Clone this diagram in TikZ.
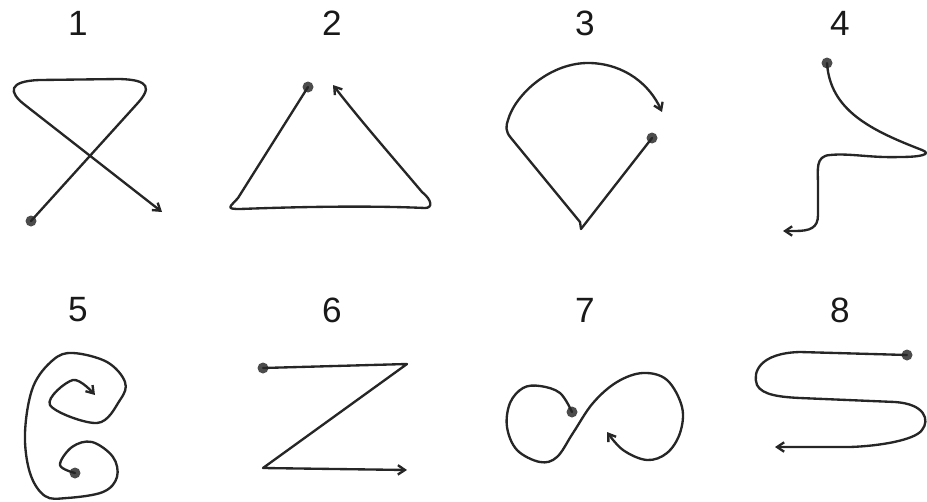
\documentclass[tikz,border=0pt]{standalone}
\usepackage{fontspec}
\setmainfont{Liberation Sans}
\usetikzlibrary{arrows.meta}

\begin{document}
\begin{tikzpicture}[x=0.03cm, y=-0.03cm,
    stroke/.style={draw=black!85, line width=2pt, line cap=round, line join=round},
    tip/.style={-{Straight Barb[length=6pt, width=8pt]}},
    startdot/.style={circle, fill=black!70, inner sep=0pt, minimum size=0.33cm},
    numlab/.style={font=\fontsize{30}{34}\selectfont, text=black!90}]
    % Khung ảnh
    \useasboundingbox (0,0) rectangle (927,501);

    % Các số thứ tự
    \foreach \n/\px/\py in {1/78/23, 2/332/23, 3/585/23, 4/840/23,
                            5/78/310, 6/332/310, 7/585/310, 8/840/310}
        \node[numlab] (lab\n) at (\px,\py) {\n};

    % Điểm bắt đầu của từng nét
    \node[startdot] (s1) at (31,221) {};
    \node[startdot] (s2) at (308,87) {};
    \node[startdot] (s3) at (652,138) {};
    \node[startdot] (s4) at (827,63) {};
    \node[startdot] (s5) at (75,473) {};
    \node[startdot] (s6) at (263,368) {};
    \node[startdot] (s7) at (572,412) {};
    \node[startdot] (s8) at (907,355) {};

    % Nét 1: vòng chéo
    \draw[stroke, tip] (s1.center) -- (136,105)
        .. controls (152,88) and (150,80) .. (120,79) -- (40,80)
        .. controls (8,81) and (8,92) .. (25,105) -- (162,212);

    % Nét 2: tam giác
    \draw[stroke, tip] (s2.center) -- (238,198)
        .. controls (230,207) and (225,209) .. (240,209)
        .. controls (320,206) and (380,206) .. (425,208)
        .. controls (433,208) and (432,200) .. (422,192)
        .. controls (395,160) and (360,120) .. (333,85);

    % Nét 3: hình cánh diều
    \draw[stroke, tip] (s3.center) -- (581,229) -- (580,222) -- (511,138)
        .. controls (505,131) and (506,126) .. (508,120)
        .. controls (515,95) and (550,62) .. (590,63)
        .. controls (625,64) and (650,85) .. (662,112);

    % Nét 4: đường cong gấp khúc
    \draw[stroke, tip] (s4.center)
        .. controls (830,110) and (870,130) .. (922,150)
        .. controls (932,154) and (922,157) .. (900,157)
        .. controls (870,158) and (850,153) .. (830,155)
        .. controls (815,156) and (818,170) .. (818,185) -- (818,215)
        .. controls (818,228) and (810,231) .. (795,231) -- (783,231);

    % Nét 5: xoắn kép
    \draw[stroke, tip] plot[smooth, tension=0.6] coordinates {
        (s5.center) (60,465) (72,447) (92,442) (113,457) (117,477) (103,492)
        (67,498) (45,496) (30,473) (25,433) (33,387) (53,360) (73,353)
        (107,362) (125,382) (120,400) (97,423) (50,405) (73,380) (95,395)};

    % Nét 6: chữ Z
    \draw[stroke, tip] (s6.center) -- (407,364) -- (263,468) -- (407,470);

    % Nét 7: vô cực
    \draw[stroke, tip] plot[smooth, tension=0.6] coordinates {
        (s7.center) (560,393) (540,386) (523,388) (510,403) (507,427) (517,450)
        (540,462) (557,457) (573,433) (593,403) (617,382) (643,373) (667,380)
        (682,407) (680,433) (667,453) (647,460) (623,450) (607,432)};

    % Nét 8: chữ S nằm
    \draw[stroke, tip] (s8.center) -- (800,352)
        .. controls (760,353) and (752,372) .. (757,385)
        .. controls (762,395) and (780,397) .. (800,398) -- (895,402)
        .. controls (925,404) and (930,420) .. (922,430)
        .. controls (915,440) and (880,446) .. (850,447) -- (775,447);
\end{tikzpicture}
\end{document}
